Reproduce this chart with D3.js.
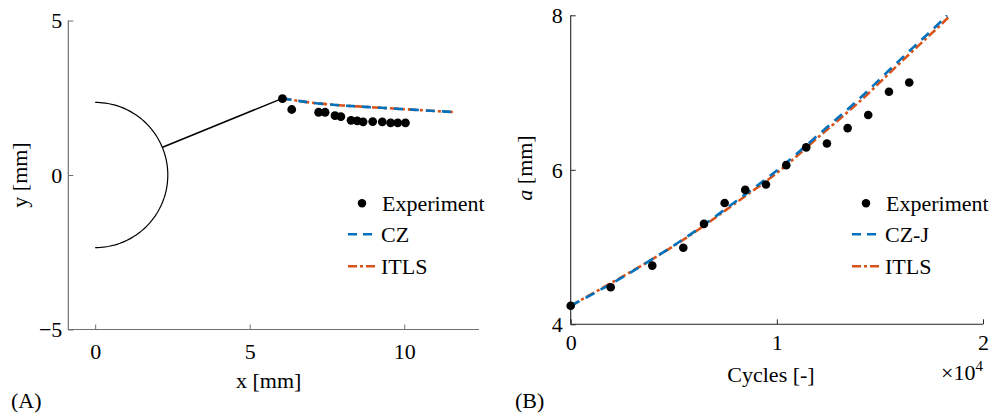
<!DOCTYPE html>
<html>
<head>
<meta charset="utf-8">
<script src="https://cdn.jsdelivr.net/npm/d3@7"></script>
<style>
  html, body { margin: 0; padding: 0; background: #fff; }
  text { font-family: "Liberation Serif", "Times New Roman", Times, serif; fill: #000; }
</style>
</head>
<body>
<svg id="chart" width="994" height="416"></svg>
<script>
// ---------- Panel A data ----------
const aXTicks = [0, 5, 10];
const aYTicks = [-5, 0, 5];
const notchRadius = 2.35;
const crackX = [2.18, 6.06];
const crackY = [0.90, 2.48];
const expAX = [6.06, 6.36, 7.23, 7.44, 7.76, 7.95, 8.28, 8.48, 8.67, 8.98, 9.29, 9.56, 9.79, 10.04];
const expAY = [2.47, 2.12, 2.03, 2.03, 1.92, 1.89, 1.77, 1.75, 1.72, 1.73, 1.72, 1.69, 1.69, 1.69];
const czAX   = [6.06, 6.5, 7.0, 7.5, 8.0, 8.5, 9.0, 9.5, 10.0, 10.5, 11.0, 11.58];
const czAY   = [2.48, 2.41, 2.34, 2.29, 2.25, 2.22, 2.19, 2.16, 2.13, 2.10, 2.07, 2.04];
const itlsAX = [6.06, 6.5, 7.0, 7.5, 8.0, 8.5, 9.0, 9.5, 10.0, 10.5, 11.0, 11.58];
const itlsAY = [2.48, 2.41, 2.34, 2.29, 2.25, 2.22, 2.19, 2.16, 2.13, 2.10, 2.07, 2.04];

// ---------- Panel B data ----------
const bXTicks = [0, 10000, 20000];
const bXTickLabels = ["0", "1", "2"];
const bYTicks = [4, 6, 8];
const expBN = [0, 1940, 3957, 5461, 6465, 7468, 8468, 9471, 10456, 11426, 12430, 13434, 14433, 15437, 16421];
const expBA = [4.24, 4.48, 4.76, 4.99, 5.30, 5.57, 5.74, 5.81, 6.06, 6.29, 6.34, 6.54, 6.71, 7.01, 7.13];
const czjBN  = [0, 2000, 4000, 6000, 8000, 10000, 12000, 14000, 16000, 17000, 18000, 18260];
const czjBA  = [4.24, 4.53, 4.85, 5.20, 5.59, 5.99, 6.45, 6.92, 7.43, 7.68, 7.93, 8.00];
const itlsBN = [0, 2000, 4000, 6000, 8000, 10000, 12000, 14000, 16000, 17000, 18000, 18420];
const itlsBA = [4.24, 4.54, 4.85, 5.19, 5.57, 5.96, 6.42, 6.88, 7.39, 7.64, 7.89, 8.00];

const BLUE = "#0072BD", ORANGE = "#D95319";
const FS = 22;
const svg = d3.select("#chart");

function zip(xs, ys) { return xs.map((x, i) => [x, ys[i]]); }

function styleAxis(a, col) {
  a.select(".domain").remove();
  a.selectAll(".tick line").attr("stroke", col).attr("stroke-width", 1);
  a.selectAll("text").attr("font-size", FS).attr("fill", "#000")
    .style("font-family", "'Liberation Serif', 'Times New Roman', serif");
}

// ================= Panel A =================
const xA = d3.scaleLinear().domain([-0.87, 12.42]).range([68.3, 479]);
const yA = d3.scaleLinear().domain([-5, 5]).range([329.5, 20.5]);
const gA = svg.append("g");
const axisColA = "#707070";

const axA_x = gA.append("g").attr("transform", `translate(0,${yA(-5)})`)
  .call(d3.axisBottom(xA).tickValues(aXTicks).tickSize(-5).tickPadding(0).tickFormat(d3.format("d")));
const axA_y = gA.append("g").attr("transform", `translate(${xA.range()[0]},0)`)
  .call(d3.axisLeft(yA).tickValues(aYTicks).tickSize(-5).tickPadding(0).tickFormat(d3.format("d")));
styleAxis(axA_x, axisColA);
styleAxis(axA_y, axisColA);
gA.append("path")
  .attr("d", `M${xA.range()[0]},${yA.range()[1]}V${yA.range()[0]}H${xA.range()[1]}`)
  .attr("fill", "none").attr("stroke", axisColA).attr("stroke-width", 1.2);
axA_x.selectAll("text").attr("y", 14).attr("dy", "0.71em");
axA_y.selectAll("text").attr("x", -6).attr("dy", "0.33em").attr("text-anchor", "end");

// notch (semicircle) and crack line
const notchPts = d3.range(-90, 90.5, 2).map(t => [notchRadius * Math.cos(t * Math.PI / 180), notchRadius * Math.sin(t * Math.PI / 180)]);
const lineA = d3.line().x(d => xA(d[0])).y(d => yA(d[1]));
gA.append("path").attr("d", lineA(notchPts)).attr("fill", "none").attr("stroke", "#000").attr("stroke-width", 1.2);
gA.append("path").attr("d", lineA(zip(crackX, crackY))).attr("fill", "none").attr("stroke", "#000").attr("stroke-width", 1.5);

const lineAc = d3.line().x(d => xA(d[0])).y(d => yA(d[1])).curve(d3.curveMonotoneX);
gA.append("path").attr("d", lineAc(zip(itlsAX, itlsAY)))
  .attr("fill", "none").attr("stroke", ORANGE).attr("stroke-width", 2.6).attr("stroke-dasharray", "9,3,3,3");
gA.append("path").attr("d", lineAc(zip(czAX, czAY)))
  .attr("fill", "none").attr("stroke", BLUE).attr("stroke-width", 2.6).attr("stroke-dasharray", "9,7");
gA.selectAll("circle.exp").data(zip(expAX, expAY)).join("circle")
  .attr("cx", d => xA(d[0])).attr("cy", d => yA(d[1])).attr("r", 4.4).attr("fill", "#000");

gA.append("text").attr("x", (xA.range()[0] + xA.range()[1]) / 2 - 5).attr("y", 388)
  .attr("text-anchor", "middle").attr("font-size", FS).text("x [mm]");
gA.append("text").attr("transform", `translate(27,${yA(0)}) rotate(-90)`)
  .attr("text-anchor", "middle").attr("font-size", FS).text("y [mm]");
gA.append("text").attr("x", 11).attr("y", 408).attr("font-size", FS).text("(A)");

function legend(g, x0, y0, labels) {
  g.append("circle").attr("cx", x0 + 14).attr("cy", y0).attr("r", 4.2).attr("fill", "#000");
  g.append("text").attr("x", x0 + 34).attr("y", y0 + 8).attr("font-size", FS).text(labels[0]);
  g.append("line").attr("x1", x0).attr("x2", x0 + 28).attr("y1", y0 + 31).attr("y2", y0 + 31)
    .attr("stroke", BLUE).attr("stroke-width", 2.6).attr("stroke-dasharray", "9,6");
  g.append("text").attr("x", x0 + 33).attr("y", y0 + 39).attr("font-size", FS).text(labels[1]);
  g.append("line").attr("x1", x0).attr("x2", x0 + 28).attr("y1", y0 + 63).attr("y2", y0 + 63)
    .attr("stroke", ORANGE).attr("stroke-width", 2.6).attr("stroke-dasharray", "9,3,3,3");
  g.append("text").attr("x", x0 + 33).attr("y", y0 + 71).attr("font-size", FS).text(labels[2]);
}
legend(gA, 348, 203.3, ["Experiment", "CZ", "ITLS"]);

// ================= Panel B =================
const xB = d3.scaleLinear().domain([0, 20000]).range([570.7, 983]);
const yB = d3.scaleLinear().domain([4, 8]).range([324.3, 15.3]);
const gB = svg.append("g");
const axisColB = "#262626";

const axB_x = gB.append("g").attr("transform", `translate(0,${yB(4)})`)
  .call(d3.axisBottom(xB).tickValues(bXTicks).tickSize(-5).tickPadding(0).tickFormat((d, i) => bXTickLabels[i]));
const axB_y = gB.append("g").attr("transform", `translate(${xB(0)},0)`)
  .call(d3.axisLeft(yB).tickValues(bYTicks).tickSize(-5).tickPadding(0).tickFormat(d3.format("d")));
styleAxis(axB_x, axisColB);
styleAxis(axB_y, axisColB);
gB.append("path")
  .attr("d", `M${xB(0)},${yB(8)}V${yB(4)}H${xB(20000)}`)
  .attr("fill", "none").attr("stroke", axisColB).attr("stroke-width", 1.1);
axB_x.selectAll("text").attr("y", 10).attr("dy", "0.71em");
axB_y.selectAll("text").attr("x", -8).attr("dy", "0.33em").attr("text-anchor", "end");

const lineB = d3.line().x(d => xB(d[0])).y(d => yB(d[1])).curve(d3.curveMonotoneX);
gB.append("path").attr("d", lineB(zip(itlsBN, itlsBA)))
  .attr("fill", "none").attr("stroke", ORANGE).attr("stroke-width", 2.6).attr("stroke-dasharray", "9,3,3,3");
gB.append("path").attr("d", lineB(zip(czjBN, czjBA)))
  .attr("fill", "none").attr("stroke", BLUE).attr("stroke-width", 2.6).attr("stroke-dasharray", "10,7");
gB.selectAll("circle.exp").data(zip(expBN, expBA)).join("circle")
  .attr("cx", d => xB(d[0])).attr("cy", d => yB(d[1])).attr("r", 4.3).attr("fill", "#000");

gB.append("text").attr("x", 771).attr("y", 382).attr("text-anchor", "middle").attr("font-size", FS).text("Cycles [-]");
const mult = gB.append("text").attr("x", 983).attr("y", 380).attr("text-anchor", "end").attr("font-size", FS);
mult.append("tspan").text("\u00d710");
mult.append("tspan").attr("font-size", 15).attr("dy", -9).text("4");
const yl = gB.append("text").attr("transform", `translate(532,168) rotate(-90)`)
  .attr("text-anchor", "middle").attr("font-size", FS);
yl.append("tspan").attr("font-style", "italic").text("a");
yl.append("tspan").text(" [mm]");
gB.append("text").attr("x", 515).attr("y", 408).attr("font-size", FS).text("(B)");

legend(gB, 852, 203.3, ["Experiment", "CZ-J", "ITLS"]);
</script>
</body>
</html>
